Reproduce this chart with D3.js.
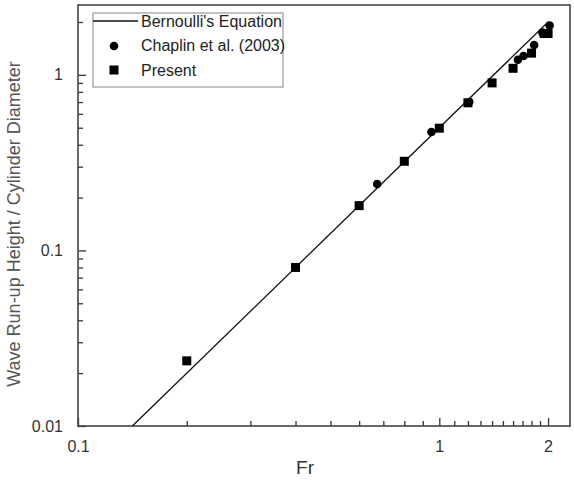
<!DOCTYPE html>
<html>
<head>
<meta charset="utf-8">
<script src="https://cdn.jsdelivr.net/npm/d3@7"></script>
<style>
	body { margin: 0; background: #fff; }
	text { font-family: "Liberation Sans", Arial, sans-serif; }
</style>
</head>
<body>
<div id="chart"></div>
<script>

// data
var chaplinFr = [0.673, 0.951, 1.21, 1.65, 1.71, 1.83, 1.93, 2.02];
var chaplinR  = [0.239, 0.473, 0.70, 1.22, 1.28, 1.48, 1.74, 1.91];

var presentFr = [0.2, 0.4, 0.6, 0.8, 1.0, 1.2, 1.4, 1.6, 1.8, 1.95, 2.0];
var presentR  = [0.0235, 0.08, 0.18, 0.322, 0.497, 0.693, 0.90, 1.09, 1.33, 1.72, 1.72];

var xTicks = [0.1, 1, 2];
var yTicks = [0.01, 0.1, 1];
var legendNames = ["Bernoulli's Equation", "Chaplin et al. (2003)", "Present"];

var width = 574, height = 484;
var margin = {top: 5, right: 4, bottom: 58, left: 78};
var w = width - margin.left - margin.right,
	h = height - margin.top - margin.bottom;

var svg = d3.select("#chart").append("svg")
			.attr("width", width)
			.attr("height", height);

var g = svg.append("g")
		.attr("transform", "translate(" + margin.left + "," + margin.top + ")");

var xScale = d3.scaleLog()
				.domain([0.1, 2.3])
				.range([0, w]);

var yScale = d3.scaleLog()
				.domain([0.01, 2.5])
				.range([h, 0]);

// minor ticks, like the log axes of the original
var xMinor = [];
for (var i = 2; i <= 9; i++) xMinor.push(i / 10);
for (var i = 11; i <= 19; i++) xMinor.push(i / 10);
var yMinor = [];
[0.01, 0.1, 1].forEach(function(d) {
	for (var i = 2; i <= 9; i++) if (d * i <= 2.5) yMinor.push(d * i);
});

var xaxis = d3.axisBottom(xScale)
			.tickValues(xTicks)
			.tickSize(-8)
			.tickPadding(15)
			.tickFormat(function(d) { return d; });

var xaxisMinor = d3.axisBottom(xScale)
			.tickValues(xMinor)
			.tickSize(-5)
			.tickFormat("");

var yaxis = d3.axisLeft(yScale)
			.tickValues(yTicks)
			.tickSize(-8)
			.tickPadding(15)
			.tickFormat(function(d) { return d; });

var yaxisMinor = d3.axisLeft(yScale)
			.tickValues(yMinor)
			.tickSize(-5)
			.tickFormat("");

g.append("g").attr("transform", "translate(0," + h + ")").call(xaxisMinor);
g.append("g").attr("transform", "translate(0," + h + ")").call(xaxis);
g.append("g").call(yaxisMinor);
g.append("g").call(yaxis);

g.selectAll(".domain").remove();
g.selectAll(".tick line").attr("stroke", "#333").attr("stroke-width", 1.3);
g.selectAll(".tick text")
	.attr("fill", "#333")
	.attr("font-size", 16);

// frame
g.append("rect")
	.attr("x", 0)
	.attr("y", 0)
	.attr("width", w)
	.attr("height", h)
	.attr("fill", "none")
	.attr("stroke", "#444")
	.attr("stroke-width", 1.6);

// Bernoulli line R/D = Fr^2 / 2
var lineFr = [Math.sqrt(0.02), 2];
var line = d3.line()
			.x(function(d) { return xScale(d); })
			.y(function(d) { return yScale(d * d / 2); });

g.append("path")
	.datum(lineFr)
	.attr("d", line)
	.attr("fill", "none")
	.attr("stroke", "#111")
	.attr("stroke-width", 1.3);

// Chaplin points
g.selectAll("circle.chaplin")
	.data(chaplinFr)
	.enter()
	.append("circle")
	.attr("class", "chaplin")
	.attr("cx", function(d) { return xScale(d); })
	.attr("cy", function(d, i) { return yScale(chaplinR[i]); })
	.attr("r", 4.3)
	.attr("fill", "#000");

// Present points
var sq = 9;
g.selectAll("rect.present")
	.data(presentFr)
	.enter()
	.append("rect")
	.attr("class", "present")
	.attr("x", function(d) { return xScale(d) - sq / 2; })
	.attr("y", function(d, i) { return yScale(presentR[i]) - sq / 2; })
	.attr("width", sq)
	.attr("height", sq)
	.attr("fill", "#000");

// legend
var lg = svg.append("g").attr("transform", "translate(93,13)");

lg.append("rect")
	.attr("width", 190)
	.attr("height", 74)
	.attr("fill", "#fff")
	.attr("stroke", "#999")
	.attr("stroke-width", 1.2);

lg.append("line")
	.attr("x1", 0).attr("x2", 45)
	.attr("y1", 8).attr("y2", 8)
	.attr("stroke", "#111")
	.attr("stroke-width", 1.3);

lg.append("circle")
	.attr("cx", 21).attr("cy", 33)
	.attr("r", 4.3)
	.attr("fill", "#000");

lg.append("rect")
	.attr("x", 21 - sq / 2).attr("y", 57 - sq / 2)
	.attr("width", sq).attr("height", sq)
	.attr("fill", "#000");

lg.selectAll("text")
	.data(legendNames)
	.enter()
	.append("text")
	.attr("x", 48)
	.attr("y", function(d, i) { return 8 + i * 24.5; })
	.attr("dy", "0.36em")
	.attr("font-size", 16)
	.attr("fill", "#222")
	.text(function(d) { return d; });

// axis titles
svg.append("text")
	.attr("x", 305)
	.attr("y", 474)
	.attr("text-anchor", "middle")
	.attr("font-size", 19)
	.attr("fill", "#333")
	.text("Fr");

svg.append("text")
	.attr("transform", "translate(20," + 224 + ") rotate(-90)")
	.attr("text-anchor", "middle")
	.attr("font-size", 18)
	.attr("fill", "#555")
	.text("Wave Run-up Height / Cylinder Diameter");

</script>
</body>
</html>
